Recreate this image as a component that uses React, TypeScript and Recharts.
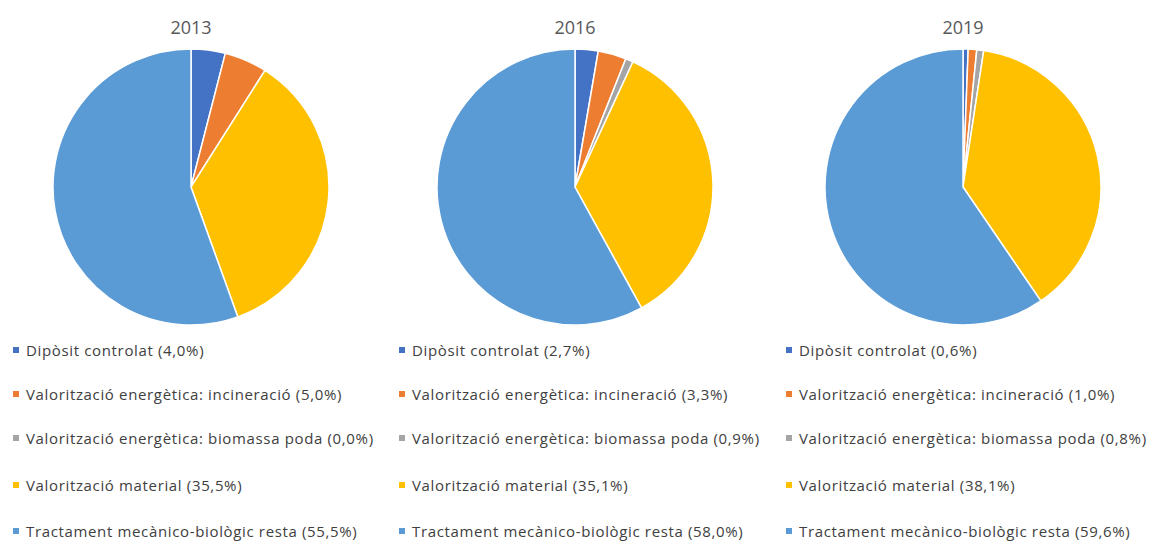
import React from "react";
import { PieChart, Pie, Cell } from "recharts";

const categories = [
  "Dipòsit controlat",
  "Valorització energètica: incineració",
  "Valorització energètica: biomassa poda",
  "Valorització material",
  "Tractament mecànico-biològic resta",
];
const years = ["2013", "2016", "2019"];
const values2013 = [4.0, 5.0, 0.0, 35.5, 55.5];
const values2016 = [2.7, 3.3, 0.9, 35.1, 58.0];
const values2019 = [0.6, 1.0, 0.8, 38.1, 59.6];

const COLORS = ["#4472C4", "#ED7D31", "#A5A5A5", "#FFC000", "#5B9BD5"];
const FONT = "'Open Sans', 'Noto Sans', sans-serif";

const panels = [
  { year: years[0], values: values2013, left: 0, cx: 191, legendX: 13 },
  { year: years[1], values: values2016, left: 386, cx: 189, legendX: 399 },
  { year: years[2], values: values2019, left: 772, cx: 191, legendX: 786 },
];

const legendRows = [350, 394, 438, 485, 531];

function fmt(v: number) {
  return v.toFixed(1).replace(".", ",") + "%";
}

function YearPie({ year, values, left, cx, legendX }: (typeof panels)[number]) {
  const data = categories.map((name, i) => ({ name, value: values[i] }));
  return (
    <>
      <div
        style={{
          position: "absolute",
          left: left + cx - 40,
          top: 15,
          width: 80,
          textAlign: "center",
          fontFamily: FONT,
          fontSize: 18,
          color: "#595959",
        }}
      >
        {year}
      </div>
      <div style={{ position: "absolute", left, top: 0 }}>
        <PieChart width={386} height={340} margin={{ top: 0, right: 0, bottom: 0, left: 0 }}>
          <Pie
            data={data}
            dataKey="value"
            nameKey="name"
            cx={cx}
            cy={187}
            outerRadius={138}
            startAngle={90}
            endAngle={-270}
            stroke="#fff"
            strokeWidth={1.5}
            isAnimationActive={false}
          >
            {data.map((d, i) => (
              <Cell key={d.name} fill={COLORS[i]} />
            ))}
          </Pie>
        </PieChart>
      </div>
      {data.map((d, i) => (
        <div
          key={d.name}
          style={{
            position: "absolute",
            left: legendX,
            top: legendRows[i] - 10,
            height: 20,
            display: "flex",
            alignItems: "center",
            fontFamily: FONT,
            fontSize: 15,
            letterSpacing: 0.65,
            color: "#404040",
            whiteSpace: "nowrap",
          }}
        >
          <span style={{ width: 6, height: 6, background: COLORS[i], marginRight: 7, display: "inline-block" }} />
          {`${d.name} (${fmt(d.value)})`}
        </div>
      ))}
    </>
  );
}

export default function App() {
  return (
    <div style={{ position: "fixed", left: 0, top: 0, width: 1160, height: 547, background: "#fff", overflow: "hidden" }}>
      {panels.map((p) => (
        <YearPie key={p.year} {...p} />
      ))}
    </div>
  );
}
